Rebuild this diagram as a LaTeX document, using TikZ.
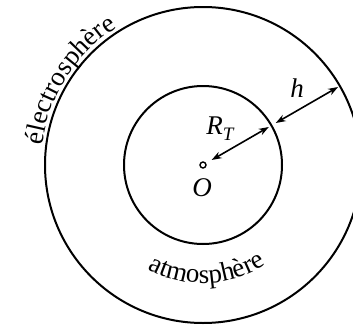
\documentclass[tikz,border=0pt]{standalone}
\usepackage{fontspec}
\setmainfont{Liberation Serif}
\usetikzlibrary{arrows.meta,decorations.text}
\tikzset{
  ring/.style={draw=black, line width=2pt},
  dblarrow/.style={line width=1.6pt, {Stealth[length=10pt,width=7pt]}-{Stealth[length=10pt,width=7pt]}},
  lab/.style={font=\fontsize{27}{32}\selectfont\itshape, inner sep=0pt},
}
\begin{document}
\begin{tikzpicture}[x=1pt,y=1pt]
\useasboundingbox (0,0) rectangle (353,325);
\clip (0,0) rectangle (353,325);
\fill[white] (0,0) rectangle (353,325);
\coordinate (c) at (203,160);
\draw[ring] (c) circle[radius=158];
\draw[ring] (c) circle[radius=79];
\node[circle, draw, line width=1.4pt, fill=white, inner sep=0pt, minimum size=6pt] (dot) at (c) {};
\node[lab] (O) at (202,137) {O};
\node[lab] (RT) at (220,196) {R\raisebox{-0.22em}{\fontsize{19}{22}\selectfont T}};
\node[lab] (h) at (297,237) {h};
\coordinate (a1) at ([shift={(30:10)}]c);
\coordinate (a2) at ([shift={(30:76)}]c);
\coordinate (b1) at ([shift={(30:84)}]c);
\coordinate (b2) at ([shift={(30:156)}]c);
\draw[dblarrow] (a1) -- (a2);
\draw[dblarrow] (b1) -- (b2);
\path[decorate, decoration={text along path, text align=center,
  text={|\fontsize{27}{32}\selectfont|électrosphère}}]
  ([shift={(197:162)}]c) arc[start angle=197, end angle=98, radius=162];
\path[decorate, decoration={text along path, text align=center,
  text={|\fontsize{27}{32}\selectfont|atmosphère}}]
  ([shift={(222:118)}]c) arc[start angle=222, end angle=322, radius=118];
\end{tikzpicture}
\end{document}
